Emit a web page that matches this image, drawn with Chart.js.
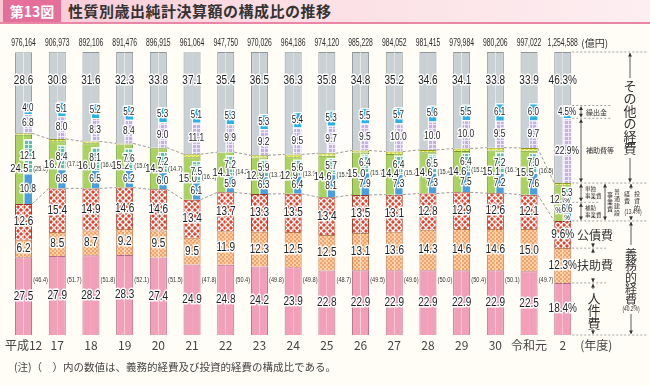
<!DOCTYPE html>
<html lang="ja">
<head>
<meta charset="utf-8">
<script src="https://cdn.jsdelivr.net/npm/chart.js@4.4.1/dist/chart.umd.min.js"></script>
<style>
  html, body { margin: 0; padding: 0; }
  body { width: 650px; height: 386px; background: #fffdf6; position: relative; overflow: hidden;
         font-family: "Noto Sans CJK JP", "Noto Sans", sans-serif; }
  #head { position: absolute; left: 0; top: 0; width: 650px; height: 22px;
          background: linear-gradient(90deg, #f8c8d3 0%, #fbdde3 40%, #fdeef1 100%);
          border-bottom: 2px solid #ea86a5; }
  #fig { position: absolute; left: 3px; top: 0; width: 58px; height: 22px; background: #e4709a;
         color: #fff; font-weight: bold; font-size: 14px; line-height: 22px; text-align: center; }
  #title { position: absolute; left: 68px; top: 0; line-height: 22px; font-size: 15px;
           font-weight: bold; color: #333; letter-spacing: 0.5px; }
  #note { position: absolute; left: 14px; top: 359px; font-size: 10.5px; color: #444; }
  canvas { position: absolute; left: 0; top: 0; }
</style>
</head>
<body>
<canvas id="chart" width="650" height="386"></canvas>
<div id="head"><div id="fig">第13図</div><div id="title">性質別歳出純計決算額の構成比の推移</div></div>
<div id="note">(注)（　）内の数値は、義務的経費及び投資的経費の構成比である。</div>
<script>
const years = ["平成12","17","18","19","20","21","22","23","24","25","26","27","28","29","30","令和元","2"];
const totals = ["976,164","906,973","892,106","891,476","896,915","961,064","947,750","970,026","964,186",
                "974,120","985,228","984,052","981,415","979,984","980,206","997,022","1,254,588"];

// 義務的経費
const personnel  = [27.5,27.9,28.2,28.3,27.4,24.9,24.8,24.2,23.9,22.8,22.9,22.9,22.9,22.9,22.9,22.5,18.4]; // 人件費
const assistance = [6.2,8.5,8.7,9.2,9.5,9.5,11.9,12.3,12.5,12.5,13.1,13.6,14.3,14.6,14.6,15.0,12.3];      // 扶助費
const debt       = [12.6,15.4,14.9,14.6,14.6,13.4,13.7,13.3,13.5,13.4,13.5,13.1,12.8,12.9,12.6,12.1,9.6]; // 公債費
const obligatory = [46.4,51.7,51.8,52.1,51.5,47.8,50.4,49.8,49.8,48.7,49.5,49.6,50.0,50.4,50.1,49.7,40.2];

// 投資的経費
const construction = [24.5,16.7,16.0,15.2,14.5,15.0,14.1,12.9,12.9,14.6,15.0,14.4,14.6,14.6,15.1,15.5,12.6]; // 普通建設事業費
const subsidized   = [10.8,6.8,6.5,6.2,6.0,6.1,5.9,6.3,6.4,8.1,7.9,7.3,7.3,7.5,7.2,7.6,6.6];   // 補助事業費
const independent  = [12.1,8.4,8.1,7.6,7.2,7.5,7.2,5.9,5.6,5.7,6.4,6.4,6.5,6.4,7.2,7.0,5.3];   // 単独事業費
const investment   = [25.0,17.5,16.6,15.6,14.7,16.1,14.2,13.7,13.9,15.5,15.7,15.2,15.4,15.5,16.1,16.5,13.4];

// その他の経費
const other     = [28.6,30.8,31.6,32.3,33.8,37.1,35.4,36.5,36.3,35.8,34.8,35.2,34.6,34.1,33.8,33.9,46.3];
const subsidies = [6.8,8.0,8.3,8.4,9.0,11.1,9.9,9.2,9.5,9.7,9.5,10.0,10.0,10.0,9.5,9.7,22.9];  // 補助費等
const transfers = [4.0,5.1,5.2,5.2,5.3,5.1,5.3,5.3,5.4,5.3,5.5,5.7,5.6,5.5,6.1,6.0,4.5];        // 繰出金

const r1 = v => Math.round(v * 10) / 10;
const disaster  = investment.map((v, i) => r1(Math.max(v - construction[i], 0)));
const greenRest = construction.map((v, i) => r1(v - subsidized[i] - independent[i]));
const greyRest  = other.map((v, i) => r1(v - subsidies[i] - transfers[i]));

function pattern(bg, fg, kind) {
  const s = kind === "cross" ? 6 : 4;
  const c = document.createElement("canvas");
  c.width = c.height = s;
  const g = c.getContext("2d");
  g.fillStyle = bg; g.fillRect(0, 0, s, s);
  g.fillStyle = fg; g.strokeStyle = fg;
  if (kind === "dots") {
    g.fillRect(0, 0, 2, 2); g.fillRect(2, 2, 2, 2);
  } else if (kind === "grid") {
    g.fillRect(0, 0, s, 1); g.fillRect(0, 0, 1, s);
  } else if (kind === "cross") {
    g.lineWidth = 1.3;
    g.beginPath(); g.moveTo(0, 0); g.lineTo(s, s); g.moveTo(s, 0); g.lineTo(0, s); g.stroke();
  }
  return g.createPattern(c, "repeat");
}

const fill = {
  grey: "#c9d1d5",
  pink: "#f29fba",
  orange: pattern("#f4a267", "#fbcfa8", "dots"),
  red: pattern("#e4402a", "#ffffff", "cross"),
  green: "#a9d25e",
  yellow: pattern("#d4dd26", "#eef38a", "dots"),
  teal: pattern("#5dbfad", "#d9f2ec", "grid"),
  blue: "#4a9fe0",
  purple: pattern("#c5b0e3", "#efe7fa", "grid"),
  cyan: "#28b2e8"
};

const bwL = { left: 1, top: 1, right: 0, bottom: 0 };
const bwR = { left: 0, top: 1, right: 1, bottom: 0 };
const bwIn = { left: 1, top: 1, right: 0, bottom: 0 };

function ds(label, data, stack, bg, border, bw) {
  return { label, data, stack, backgroundColor: bg, borderColor: border, borderWidth: bw, borderSkipped: false };
}

const datasets = [
  // left half (full outer layers)
  ds("人件費", personnel, "L", fill.pink, "#b56c84", bwL),          // 0
  ds("扶助費", assistance, "L", fill.orange, "#b97a4f", bwL),       // 1
  ds("公債費", debt, "L", fill.red, "#9c3322", bwL),                // 2
  ds("普通建設事業費", construction, "L", fill.green, "#6f9a34", bwL), // 3
  ds("災害復旧事業費等", disaster, "L", fill.yellow, "#8e9622", bwL), // 4
  ds("その他の経費", other, "L", fill.grey, "#8d969a", bwL),        // 5
  // right half (inner breakdowns)
  ds("人件費", personnel, "R", fill.pink, "#b56c84", bwR),          // 6
  ds("扶助費", assistance, "R", fill.orange, "#b97a4f", bwR),       // 7
  ds("公債費", debt, "R", fill.red, "#9c3322", bwR),                // 8
  ds("補助事業費", subsidized, "R", fill.blue, "#ffffff", bwIn),    // 9
  ds("単独事業費", independent, "R", fill.teal, "#ffffff", bwIn),   // 10
  ds("普通建設事業費", greenRest, "R", fill.green, "#6f9a34", bwR), // 11
  ds("災害復旧事業費等", disaster, "R", fill.yellow, "#8e9622", bwR), // 12
  ds("補助費等", subsidies, "R", fill.purple, "#ffffff", bwIn),     // 13
  ds("繰出金", transfers, "R", fill.cyan, "#ffffff", bwIn),         // 14
  ds("その他の経費", greyRest, "R", fill.grey, "#8d969a", bwR)      // 15
];

const NUM_FONT = "'Liberation Sans', Arial, sans-serif";
const JP_FONT = "'Noto Sans CJK JP', sans-serif";

const overlay = {
  id: "overlay",
  afterDatasetsDraw(chart) {
    const { ctx, chartArea } = chart;
    const m = j => chart.getDatasetMeta(j).data;
    const n = years.length;
    const mid = el => (el.y + el.base) / 2;
    ctx.save();

    // dashed connectors between bars
    ctx.setLineDash([3, 2]);
    ctx.strokeStyle = "#9a9a9a";
    ctx.lineWidth = 1;
    for (let i = 0; i < n - 1; i++) {
      for (const [dl, dr] of [[2, 8], [4, 12]]) {
        const a = m(dr)[i], b = m(dl)[i + 1];
        ctx.beginPath();
        ctx.moveTo(a.x + a.width / 2, a.y);
        ctx.lineTo(b.x - b.width / 2, b.y);
        ctx.stroke();
      }
    }
    ctx.setLineDash([]);

    // narrow text: draw horizontally squeezed
    function narrow(t, x, y, size, sx, opt) {
      opt = opt || {};
      ctx.save();
      ctx.translate(x, y);
      ctx.scale(sx, 1);
      ctx.font = `${size}px ${NUM_FONT}`;
      ctx.textAlign = opt.align || "center";
      ctx.textBaseline = "middle";
      if (opt.halo) {
        ctx.lineJoin = "round";
        ctx.lineWidth = 3;
        ctx.strokeStyle = "#ffffff";
        ctx.strokeText(t, 0, 0);
      }
      ctx.fillStyle = opt.color || "#1e1e1e";
      ctx.fillText(t, 0, 0);
      ctx.restore();
    }
    const num = (t, x, y, size) => narrow(t, x, y, size, 0.8, { halo: true });
    function plain(t, x, y, size, align, color) {
      ctx.font = `${size}px ${JP_FONT}`;
      ctx.textAlign = align || "center";
      ctx.textBaseline = "middle";
      ctx.fillStyle = color || "#333";
      ctx.fillText(t, x, y);
    }

    for (let i = 0; i < n; i++) {
      const last = i === n - 1;
      const lx = m(0)[i].x, rx = m(6)[i].x;
      const cx = (lx + rx) / 2;
      const w = m(6)[i].width;
      const pct = last ? "%" : "";
      num(personnel[i].toFixed(1) + pct, cx, mid(m(0)[i]), 12.5);
      num(assistance[i].toFixed(1) + pct, cx, mid(m(1)[i]), 12.5);
      num(debt[i].toFixed(1) + pct, cx, mid(m(2)[i]), 12.5);
      num(other[i].toFixed(1) + pct, cx, chartArea.top + 29, 12.5);
      num(subsidies[i].toFixed(1) + pct, rx, mid(m(13)[i]), 10.5);
      num(transfers[i].toFixed(1) + pct, rx, mid(m(14)[i]), 10);
      if (last) {
        num(construction[i].toFixed(1), lx, mid(m(3)[i]) - 3, 11);
        num("%", lx, mid(m(3)[i]) + 7, 9);
        num(independent[i].toFixed(1), rx, mid(m(10)[i]) - 2, 10);
        num("%", rx, mid(m(10)[i]) + 6, 8);
        num(subsidized[i].toFixed(1), rx, mid(m(9)[i]) - 2, 10);
        num("%", rx, mid(m(9)[i]) + 6, 8);
      } else {
        num(construction[i].toFixed(1), lx, mid(m(3)[i]), 11.5);
        num(independent[i].toFixed(1), rx, mid(m(10)[i]), 10.5);
        num(subsidized[i].toFixed(1), rx, mid(m(9)[i]), 10.5);
        const gx = rx + w / 2 + 8.5;
        narrow(`(${investment[i].toFixed(1)})`, gx, (m(2)[i].y + m(4)[i].y) / 2, 7.5, 0.75, { color: "#333" });
        narrow(`(${obligatory[i].toFixed(1)})`, gx, chartArea.bottom - 55, 7.5, 0.75, { color: "#333" });
      }
      narrow(totals[i], cx, chartArea.top - 9, 10, 0.68, { color: "#2a2a2a" });
    }

    // right-hand annotation for the latest year
    const k = n - 1;
    const xr = m(15)[k].x + m(15)[k].width / 2;
    const lv = {
      top: chartArea.top,
      cyanTop: m(14)[k].y, cyanBot: m(14)[k].base,
      invTop: m(12)[k].y, split: m(9)[k].y,
      redTop: m(8)[k].y, orTop: m(7)[k].y, pinkTop: m(6)[k].y,
      bottom: m(6)[k].base
    };
    plain("(億円)", xr + 10, chartArea.top - 9, 10, "left", "#333");
    plain("(年度)", xr + 9, chartArea.bottom + 10, 12, "left", "#444");

    ctx.setLineDash([2, 2]);
    ctx.strokeStyle = "#8a8a8a";
    ctx.lineWidth = 0.8;
    const guides = [[lv.top, 648], [lv.cyanTop, 612], [lv.cyanBot, 612], [lv.invTop, 648], [lv.split, 600],
                    [lv.redTop, 648], [lv.orTop, 606], [lv.pinkTop, 606], [lv.bottom, 648]];
    for (const [y, x2] of guides) {
      ctx.beginPath(); ctx.moveTo(xr + 1, y); ctx.lineTo(x2, y); ctx.stroke();
    }
    ctx.setLineDash([]);

    ctx.strokeStyle = "#333";
    ctx.fillStyle = "#333";
    ctx.lineWidth = 0.8;
    function tri(x, y, dir) {
      ctx.beginPath();
      ctx.moveTo(x, y);
      ctx.lineTo(x - 2, y - dir * 3.5);
      ctx.lineTo(x + 2, y - dir * 3.5);
      ctx.closePath();
      ctx.fillStyle = "#333";
      ctx.fill();
    }
    function vline(x, y1, y2, h1, h2) {
      ctx.beginPath(); ctx.moveTo(x, y1); ctx.lineTo(x, y2); ctx.stroke();
      if (h1) tri(x, y1, -1);
      if (h2) tri(x, y2, 1);
    }
    function vtext(t, x, y0, step, size) {
      [...t].forEach((ch, j) => plain(ch, x, y0 + j * step, size, "center", "#333"));
    }

    // その他の経費
    vline(630, lv.top + 1, lv.top + 26, true, false);
    vtext("その他の経費", 630, lv.top + 34, 12.5, 13);
    vline(630, lv.top + 106, lv.invTop - 1, false, true);
    // 繰出金 / 補助費等
    vline(581, lv.cyanTop + 1, lv.cyanBot - 1, true, true);
    plain("繰出金", 586, (lv.cyanTop + lv.cyanBot) / 2, 7, "left");
    vline(581, lv.cyanBot + 1, lv.invTop - 1, true, true);
    plain("補助費等", 586, (lv.cyanBot + lv.invTop) / 2, 7, "left");
    // 単独事業費 / 補助事業費
    vline(581, lv.invTop + 1, lv.split - 1, true, true);
    const m1 = (lv.invTop + lv.split) / 2;
    plain("単独", 585, m1 - 3.5, 5.5, "left");
    plain("事業費", 585, m1 + 3.5, 5.5, "left");
    vline(581, lv.split + 1, lv.redTop - 1, true, true);
    const m2 = (lv.split + lv.redTop) / 2;
    plain("補助", 585, m2 - 3.5, 5.5, "left");
    plain("事業費", 585, m2 + 3.5, 5.5, "left");
    // 普通建設事業費
    vline(605, lv.invTop + 1, lv.redTop - 1, true, true);
    const m3 = (lv.invTop + lv.redTop) / 2;
    vtext("普通建設", 617, m3 - 10.5, 7, 6);
    vtext("事業費", 610, m3 - 7, 7, 6);
    // 投資的経費
    vline(631, lv.invTop + 1, lv.invTop + 6, true, false);
    vline(631, lv.redTop - 5, lv.redTop - 1, false, true);
    vtext("投資的", 637, lv.invTop + 11, 7, 6);
    vtext("経費", 627, lv.invTop + 11, 7, 6);
    narrow("(13.4%)", 633, lv.redTop - 9, 6.5, 0.75, { color: "#333" });
    // 公債費 / 扶助費 / 人件費
    plain("公債費", 577, (lv.redTop + lv.orTop) / 2 + 1, 12, "left");
    vline(593, lv.orTop - 5, lv.orTop - 1, false, true);
    plain("扶助費", 577, (lv.orTop + lv.pinkTop) / 2, 12, "left");
    vline(593, lv.orTop + 1, lv.orTop + 5, true, false);
    vline(593, lv.pinkTop - 5, lv.pinkTop - 1, false, true);
    const m4 = (lv.pinkTop + lv.bottom) / 2;
    vline(593, lv.pinkTop + 1, m4 - 20, true, false);
    vtext("人件費", 594, m4 - 11, 12.5, 13);
    vline(593, m4 + 20, lv.bottom - 1, false, true);
    // 義務的経費
    vline(631, lv.redTop + 1, lv.redTop + 24, true, false);
    vtext("義務的経費", 631, lv.redTop + 33, 11.5, 12);
    narrow("(40.2%)", 631, lv.redTop + 88, 6.5, 0.75, { color: "#333" });
    vline(631, lv.redTop + 93, lv.bottom - 1, false, true);

    ctx.restore();
  }
};

new Chart(document.getElementById("chart"), {
  type: "bar",
  data: { labels: years, datasets },
  options: {
    responsive: false,
    animation: false,
    events: [],
    categoryPercentage: 0.505,
    barPercentage: 1,
    layout: { padding: { left: 6.7, right: 70.4, top: 52, bottom: 30.6 } },
    plugins: { legend: { display: false }, tooltip: { enabled: false } },
    scales: {
      x: {
        stacked: true,
        grid: { display: false, drawTicks: false },
        border: { display: false },
        ticks: { color: "#444", padding: 3, maxRotation: 0, minRotation: 0, autoSkip: false,
                 font: { size: 12, family: JP_FONT } }
      },
      y: { stacked: true, display: false, min: 0, max: 100 }
    }
  },
  plugins: [overlay]
});
</script>
</body>
</html>
